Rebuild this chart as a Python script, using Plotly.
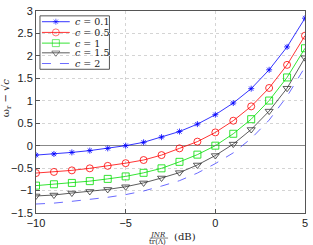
import plotly.graph_objects as go

x_db = [-10, -9, -8, -7, -6, -5, -4, -3, -2, -1, 0, 1, 2, 3, 4, 5]
c_01 = [-0.21, -0.185, -0.15, -0.11, -0.06, 0.0, 0.075, 0.19, 0.315, 0.48, 0.69, 0.95, 1.27, 1.69, 2.20, 2.84]
c_05 = [-0.61, -0.585, -0.55, -0.505, -0.45, -0.39, -0.32, -0.21, -0.06, 0.09, 0.295, 0.556, 0.875, 1.285, 1.80, 2.45]
c_1 = [-0.89, -0.86, -0.83, -0.79, -0.74, -0.685, -0.605, -0.505, -0.36, -0.20, 0.0, 0.265, 0.59, 1.005, 1.52, 2.17]
c_15 = [-1.12, -1.10, -1.055, -1.02, -0.975, -0.915, -0.83, -0.72, -0.60, -0.43, -0.22, 0.035, 0.36, 0.77, 1.28, 1.96]
c_2 = [-1.30, -1.28, -1.24, -1.20, -1.15, -1.09, -1.01, -0.90, -0.78, -0.61, -0.40, -0.16, 0.16, 0.57, 1.10, 1.75]

labels = ["<i>c</i> = 0.1", "<i>c</i> = 0.5", "<i>c</i> = 1", "<i>c</i> = 1.5", "<i>c</i> = 2"]
values = [c_01, c_05, c_1, c_15, c_2]

x_ticks = [-10, -5, 0, 5]
y_ticks = [-1.5, -1, -0.5, 0, 0.5, 1, 1.5, 2, 2.5, 3]

# styles (kept separate from data)
colors = ["#0000ff", "#ff0000", "#00dd00", "#333333", "#4444ff"]
symbols = ["asterisk-open", "circle-open", "square-open", "triangle-down-open", None]
sizes = [5, 7, 7, 7, 0]

# compact legend geometry in paper coordinates
leg_box = (0.0148, 0.273, 0.7115, 0.976)
leg_rows = [0.947, 0.894, 0.841, 0.793, 0.740]
leg_line = (0.0221, 0.1255)
leg_mark = 0.0738
leg_text = 0.1365

fig = go.Figure()
for name, vals, col, sym, size in zip(labels, values, colors, symbols, sizes):
    if sym:
        fig.add_trace(go.Scatter(
            x=x_db, y=vals, name=name, mode="lines+markers", showlegend=False,
            line=dict(color=col, width=0.8),
            marker=dict(symbol=sym, size=size, color=col, line=dict(color=col, width=0.8)),
        ))
    else:
        fig.add_trace(go.Scatter(
            x=x_db, y=vals, name=name, mode="lines", showlegend=False,
            line=dict(color=col, width=0.8, dash="dash"),
        ))

shapes = [dict(type="rect", xref="paper", yref="paper", x0=leg_box[0], x1=leg_box[1],
               y0=leg_box[2], y1=leg_box[3], fillcolor="white",
               line=dict(color="#555555", width=1), layer="between")]
annotations = []
mx, my, mc, ms, msz = [], [], [], [], []
for name, col, sym, size, ry in zip(labels, colors, symbols, sizes, leg_rows):
    shapes.append(dict(type="line", xref="paper", yref="paper", x0=leg_line[0], x1=leg_line[1],
                       y0=ry, y1=ry, layer="between",
                       line=dict(color=col, width=0.8, dash="solid" if sym else "dash")))
    if sym:
        mx.append(leg_mark); my.append(ry); mc.append(col); ms.append(sym); msz.append(size)
    annotations.append(dict(text=name, x=leg_text, y=ry, xref="paper", yref="paper",
                            xanchor="left", yanchor="middle", showarrow=False,
                            font=dict(family="DejaVu Serif, Liberation Serif, serif", size=9.5,
                                      color="#222222")))

fig.add_trace(go.Scatter(
    x=mx, y=my, xaxis="x2", yaxis="y2", mode="markers", showlegend=False, hoverinfo="skip",
    marker=dict(symbol=ms, size=msz, color=mc, line=dict(color=mc, width=0.8)),
))

axis_common = dict(
    showline=True, linecolor="#555555", linewidth=1, mirror=True,
    showgrid=True, gridcolor="#d4d4d4", griddash="dot", gridwidth=1,
    ticks="inside", ticklen=4, tickcolor="#555555", ticklabeloverflow="allow",
    tickfont=dict(family="Liberation Sans, Arial", size=11, color="#222222"),
)

annotations += [
    dict(text="<i>JNR</i>", x=0.5, y=-0.108, xref="paper", yref="paper", xanchor="right",
         xshift=-3, yanchor="middle", showarrow=False,
         font=dict(family="DejaVu Serif, serif", size=7, color="#222222")),
    dict(text="tr(Λ)", x=0.5, y=-0.143, xref="paper", yref="paper", xanchor="right",
         xshift=-3, yanchor="middle", showarrow=False,
         font=dict(family="DejaVu Serif, serif", size=7, color="#222222")),
    dict(text="(dB)", x=0.5, y=-0.116, xref="paper", yref="paper", xanchor="left",
         xshift=1, yanchor="middle", showarrow=False,
         font=dict(family="DejaVu Serif, serif", size=10, color="#222222")),
    dict(text="ω<sub>r</sub> − √<i>c</i>", x=-0.11, y=0.57, xref="paper", yref="paper",
         xanchor="center", yanchor="middle", textangle=-90, showarrow=False,
         font=dict(family="DejaVu Serif, serif", size=10, color="#222222")),
]
shapes.append(dict(type="line", xref="paper", yref="paper", x0=0.428, x1=0.491,
                   y0=-0.124, y1=-0.124, line=dict(color="#222222", width=0.6)))

fig.update_layout(
    width=313, height=245,
    margin=dict(l=36, r=6, t=5, b=32),
    paper_bgcolor="white", plot_bgcolor="white",
    showlegend=False,
    xaxis=dict(range=[-10, 5], tickvals=x_ticks, zeroline=False, **axis_common),
    yaxis=dict(range=[-1.5, 3], tickvals=y_ticks, zeroline=True, zerolinecolor="#888888",
               zerolinewidth=1.2, **axis_common),
    xaxis2=dict(overlaying="x", range=[0, 1], visible=False, fixedrange=True),
    yaxis2=dict(overlaying="y", range=[0, 1], visible=False, fixedrange=True),
    annotations=annotations,
    shapes=shapes,
)

fig.write_html(
    "out.html",
    config={"displayModeBar": False},
    post_script="document.body.style.margin='0';document.body.style.overflow='hidden';",
)
